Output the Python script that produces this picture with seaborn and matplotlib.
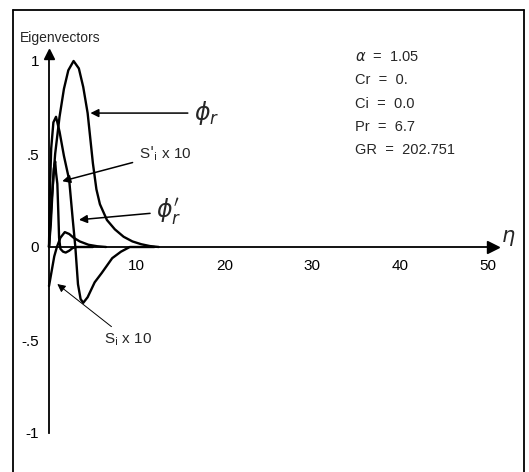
import matplotlib
matplotlib.use("Agg")
import matplotlib.pyplot as plt
import seaborn as sns
import pandas as pd
from matplotlib.lines import Line2D

# curves
eta_phi_r = [0, 0.3, 0.7, 1.2, 1.7, 2.2, 2.8, 3.4, 3.9, 4.4, 5.0, 5.4, 5.8,
             6.6, 7.5, 8.5, 9.5, 10.5, 11.5, 12.5]
phi_r = [0, 0.25, 0.5, 0.7, 0.85, 0.95, 1.0, 0.96, 0.86, 0.72, 0.45, 0.31,
         0.23, 0.145, 0.095, 0.055, 0.03, 0.015, 0.005, 0]

eta_dphi_r = [0, 0.1, 0.25, 0.5, 0.8, 1.2, 1.7, 2.3, 2.7, 3.0, 3.3, 3.6, 3.9,
              4.4, 5.2, 6.0, 7.2, 8.2, 9.2, 12]
dphi_r = [0, 0.3, 0.53, 0.67, 0.70, 0.62, 0.49, 0.36, 0.15, 0.0, -0.2, -0.28,
          -0.3, -0.27, -0.19, -0.14, -0.06, -0.025, 0, 0]

eta_si = [0, 0.3, 0.6, 0.9, 1.3, 1.8, 2.3, 2.8, 3.5, 4.5, 5.5, 6.5]
si_x10 = [-0.21, -0.13, -0.05, 0.0, 0.05, 0.08, 0.07, 0.05, 0.03, 0.012,
          0.004, 0]

eta_dsi = [0, 0.2, 0.4, 0.55, 0.7, 0.8, 0.95, 1.05, 1.15, 1.3, 1.6, 1.9,
           2.3, 2.7, 3.2, 5]
dsi_x10 = [0, 0.12, 0.3, 0.42, 0.46, 0.40, 0.34, 0.2, 0.05, -0.01, -0.025,
           -0.03, -0.02, -0.005, 0, 0]

x_ticks = [10, 20, 30, 40, 50]
y_ticks = [-1, -0.5, 0, 0.5, 1]
y_tick_labels = ['-1', '-.5', '0', '.5', '1']
params = [r'$\alpha$  =  1.05', 'Cr  =  0.', 'Ci  =  0.0', 'Pr  =  6.7',
          'GR  =  202.751']

sns.set_style("white")
plt.rcParams['font.family'] = ['Liberation Sans', 'DejaVu Sans']

fig = plt.figure(figsize=(5.29, 4.72), dpi=100)
ax = fig.add_axes([0, 0, 1, 1])

for xs, ys in [(eta_phi_r, phi_r), (eta_dphi_r, dphi_r),
               (eta_si, si_x10), (eta_dsi, dsi_x10)]:
    df = pd.DataFrame({'eta': xs, 'val': ys})
    sns.lineplot(data=df, x='eta', y='val', ax=ax, color='black',
                 linewidth=1.7, estimator=None, sort=False)

# map data so that the axes sit where they do in the picture
ax.set_xlim(-49 / 8.78, (529 - 49) / 8.78)
ax.set_ylim(-(472 - 247) / 186, 247 / 186)
ax.set_xlabel('')
ax.set_ylabel('')

for s in ['top', 'right']:
    ax.spines[s].set_visible(False)
ax.spines['left'].set_position(('data', 0))
ax.spines['bottom'].set_position(('data', 0))
ax.spines['left'].set_bounds(-1, 1.02)
ax.spines['bottom'].set_bounds(0, 50.6)
for s in ['left', 'bottom']:
    ax.spines[s].set_color('black')
    ax.spines[s].set_linewidth(1.3)
ax.plot([50.6], [0], marker='>', color='black', markersize=8, clip_on=False)
ax.plot([0], [1.04], marker='^', color='black', markersize=7, clip_on=False)

ax.set_xticks(x_ticks)
ax.set_xticklabels([str(t) for t in x_ticks], fontsize=11)
ax.set_yticks(y_ticks)
ax.set_yticklabels(y_tick_labels, fontsize=11)
ax.tick_params(axis='both', direction='out', length=5, width=1.2,
               color='black', labelcolor='black', pad=2)
ax.tick_params(axis='x', pad=4)

ax.text(-3.3, 1.1, 'Eigenvectors', fontsize=10)
ax.text(51.5, 0.025, r'$\eta$', fontsize=15)

for i, p in enumerate(params):
    ax.text(34.8, 1.0 - i * 0.125, p, fontsize=10.5)

arrow = dict(arrowstyle='-|>', color='black', lw=1.1, mutation_scale=12)
ax.annotate(r'$\phi_r$', xy=(4.4, 0.72), xytext=(16.5, 0.72), fontsize=17,
            va='center', arrowprops=arrow)
ax.annotate(r"S$'_{\rm i}$ x 10", xy=(1.2, 0.35), xytext=(10.2, 0.5),
            fontsize=11, va='center', arrowprops=arrow)
ax.annotate(r"$\phi_r'$", xy=(3.1, 0.145), xytext=(12.2, 0.19), fontsize=17,
            va='center', arrowprops=arrow)
ax.annotate(r'S$_{\rm i}$ x 10', xy=(0.7, -0.19), xytext=(6.3, -0.5),
            fontsize=11, va='center',
            arrowprops=dict(arrowstyle='-|>', color='black', lw=0.7,
                            mutation_scale=12))

# frame round the figure
for xy in [([13, 13], [0, 462]), ([13, 524], [462, 462]),
           ([524, 524], [462, 0])]:
    fig.add_artist(Line2D([v / 529 for v in xy[0]], [v / 472 for v in xy[1]],
                          color='black', lw=1.3))

fig.savefig('out.png', dpi=100)
